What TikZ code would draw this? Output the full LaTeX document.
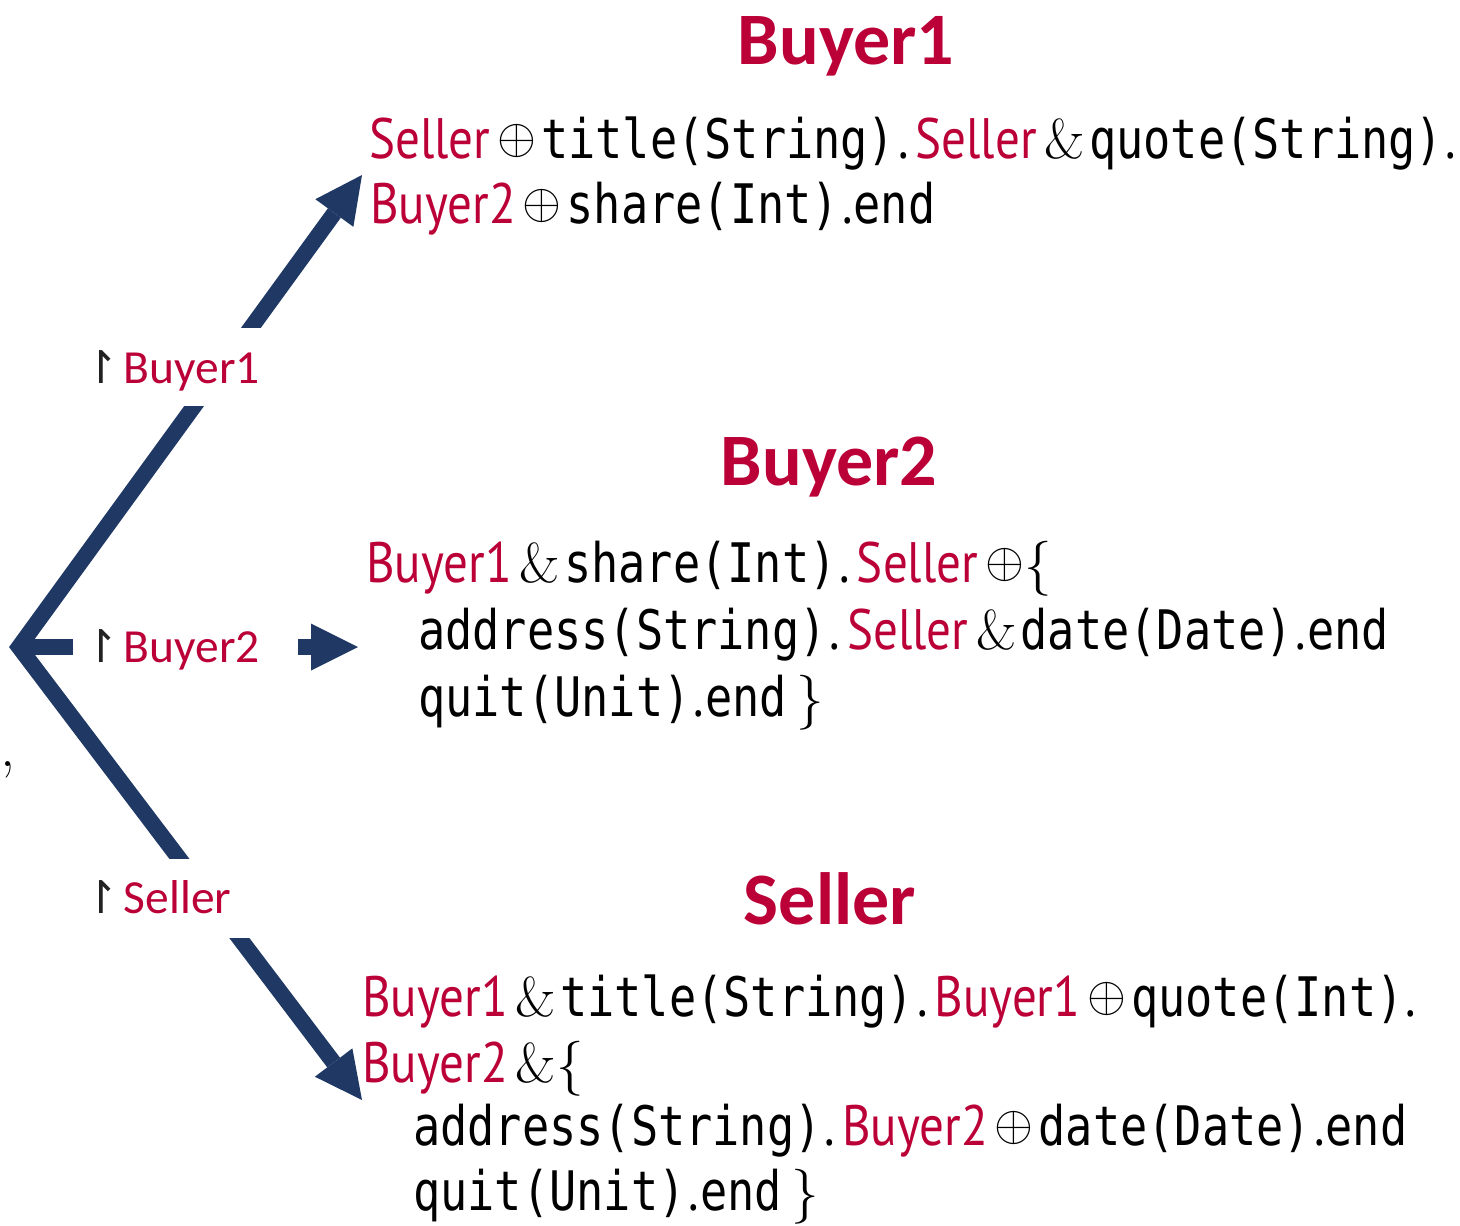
\documentclass[tikz,border=0pt]{standalone}
\usepackage{fontspec}
\usetikzlibrary{arrows.meta}

\newfontfamily\labfont{Carlito}
\newfontfamily\rolefont[FakeStretch=0.86]{PT Sans}
\newfontfamily\codefont[FakeStretch=0.83]{DejaVu Sans Mono}
\newfontfamily\symfont{DejaVu Sans}

\definecolor{crim}{RGB}{186,0,55}
\definecolor{navy}{RGB}{31,56,100}
\definecolor{harp}{RGB}{34,34,34}

% pieces of a session type
\newcommand\role[1]{{\rolefont\fontsize{57}{66}\selectfont\color{crim}#1}}
\newcommand\code[1]{{\codefont\fontsize{54.5}{66}\selectfont #1}}
\newcommand\oplussym{{\fontsize{10}{12}\selectfont\raisebox{5pt}{\scalebox{5}{$\oplus$}}}}
\newcommand\ampsym{{\rmfamily\fontsize{56}{66}\selectfont\&}}
\newcommand\lbr{{\rmfamily\fontsize{55}{66}\selectfont\{}}
\newcommand\rbr{{\rmfamily\fontsize{55}{66}\selectfont\}}}
\newcommand\pd{{\rolefont\fontsize{57}{66}\selectfont.}}
% separators: selection, branching, sequencing
\newcommand\sel{\hspace{7pt}\oplussym\hspace{5pt}}
\newcommand\bra{\hspace{8pt}\ampsym\hspace{4pt}}
\newcommand\thn{\hspace{3pt}\pd\hspace{7pt}}
\newcommand\thnend{\hspace{3pt}\pd\hspace{1pt}}
\newcommand\lastdot{\hspace{2pt}\pd}
\newcommand\proj[1]{{\symfont\fontsize{45}{45}\selectfont\color{harp}↾}\hspace{4pt}{\color{crim}#1}}

\begin{document}
\begin{tikzpicture}[x=1pt,y=-1pt,
  bar/.style={draw=navy,line width=16pt,line join=miter},
  tip/.style={-{Triangle[length=47pt,width=47pt,line width=0pt]}},
  title/.style={font=\labfont\bfseries\fontsize{74}{74}\selectfont,text=crim,anchor=base,inner sep=0pt},
  lbl/.style={font=\labfont\fontsize{47.5}{47.5}\selectfont,anchor=base west,inner sep=0pt},
  line/.style={anchor=base west,inner sep=0pt}]
\useasboundingbox (0,0) rectangle (1460,1226);

% branching point and arrow ends
\coordinate (v) at (19,647);
\coordinate (t1) at (362,175);
\coordinate (t2) at (358,647);
\coordinate (t3) at (362,1100);
\coordinate (h1) at (73,647);
\coordinate (h2) at (298,647);

% the V between the upper and lower labels
\begin{scope}
  \clip (0,406) rectangle (400,858);
  \draw[bar] (t1) -- (v) -- (t3);
\end{scope}
% upper arrow, above the Buyer1 label
\begin{scope}
  \clip (0,0) rectangle (400,327);
  \draw[bar,tip] (v) -- (t1);
\end{scope}
% lower arrow, below the Seller label
\begin{scope}
  \clip (0,938) rectangle (400,1226);
  \draw[bar,tip] (v) -- (t3);
\end{scope}
% middle arrow, split by the Buyer2 label
\draw[bar] (v) -- (h1);
\draw[bar,tip] (h2) -- (t2);

% projection labels
\node[lbl] (p1) at (82,383) {\proj{Buyer1}};
\node[lbl] (p2) at (82,662) {\proj{Buyer2}};
\node[lbl] (p3) at (82,913) {\proj{Seller}};

% stray comma on the left
\node[line,font=\rmfamily\fontsize{60}{60}\selectfont] (cm) at (0,766) {,};

% Buyer1
\node[title] (h-b1) at (846,64) {Buyer1};
\node[line] (b1a) at (369,158) {\role{Seller}\sel\code{title(String)}\thn\role{Seller}\bra\code{quote(String)}\lastdot};
\node[line] (b1b) at (370,223) {\role{Buyer2}\sel\code{share(Int)}\thnend\code{end}};

% Buyer2
\node[title] (h-b2) at (829,485) {Buyer2};
\node[line] (b2a) at (366,582) {\role{Buyer1}\bra\code{share(Int)}\thn\role{Seller}\hspace{7pt}\oplussym\lbr};
\node[line] (b2b) at (418,649) {\code{address(String)}\thn\role{Seller}\bra\code{date(Date)}\thnend\code{end}};
\node[line] (b2c) at (418,716) {\code{quit(Unit)}\thnend\code{end}\hspace{10pt}\rbr};

% Seller
\node[title] (h-s) at (830,924) {Seller};
\node[line] (s-a) at (362,1016) {\role{Buyer1}\bra\code{title(String)}\thn\role{Buyer1}\sel\code{quote(Int)}\lastdot};
\node[line] (s-b) at (362,1082) {\role{Buyer2}\hspace{8pt}\ampsym\lbr};
\node[line] (s-c) at (413,1145) {\code{address(String)}\thn\role{Buyer2}\sel\code{date(Date)}\thnend\code{end}};
\node[line] (s-d) at (413,1210) {\code{quit(Unit)}\thnend\code{end}\hspace{10pt}\rbr};
\end{tikzpicture}
\end{document}
